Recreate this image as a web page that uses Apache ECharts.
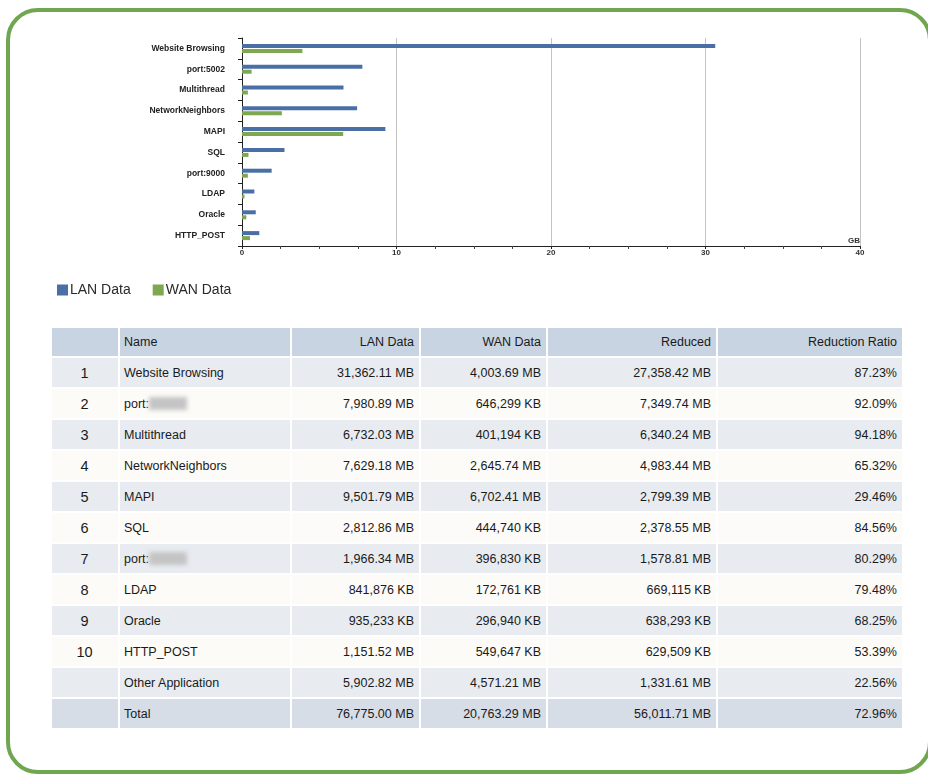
<!DOCTYPE html>
<html>
<head>
<meta charset="utf-8">
<script src="https://cdn.jsdelivr.net/npm/echarts@6/dist/echarts.min.js"></script>
<style>
  html, body { margin: 0; padding: 0; background: #fff; }
  body { width: 928px; height: 774px; position: relative; overflow: hidden; font-family: "Liberation Sans", Arial, sans-serif; }
  .frame {
    position: absolute; left: 6px; top: 8px; width: 926px; height: 766px;
    box-sizing: border-box; border: 4px solid #71a650; border-radius: 32px;
  }
  #main { position: absolute; left: 0; top: 0; width: 928px; height: 310px; }
  table.report {
    position: absolute; left: 50px; top: 326px; width: 854px; table-layout: fixed;
    border-collapse: separate; border-spacing: 2px; font-size: 12.5px; color: #1a1a1a;
  }
  .report td { height: 29px; padding: 0 5px 0 4px; white-space: nowrap; box-sizing: border-box; overflow: hidden; }
  .report tr.head td { background: #c8d4e2; height: 28px; }
  .report tr.odd td { background: #e8ecf1; }
  .report tr.even td { background: #fcfbf8; }
  .report tr.total td { background: #d6dde7; }
  .report td.idx { text-align: center; font-size: 14.5px; }
  .report td.num { text-align: right; }
  .blur { display: inline-block; width: 38px; height: 13px; vertical-align: -2px; background: #c4c4c4; filter: blur(2px); }
</style>
</head>
<body>
<div class="frame"></div>
<div id="main"></div>
<table class="report" id="report"></table>
<script>
// chart data (GB)
var categories = ['Website Browsing', 'port:5002', 'Multithread', 'NetworkNeighbors', 'MAPI', 'SQL', 'port:9000', 'LDAP', 'Oracle', 'HTTP_POST']
var lanData = [30.63, 7.79, 6.57, 7.45, 9.28, 2.75, 1.92, 0.80, 0.89, 1.12]
var wanData = [3.91, 0.62, 0.38, 2.58, 6.55, 0.42, 0.38, 0.16, 0.28, 0.52]

// table data
var headers = ['', 'Name', 'LAN Data', 'WAN Data', 'Reduced', 'Reduction Ratio']
var rowNames = ['Website Browsing', 'port:', 'Multithread', 'NetworkNeighbors', 'MAPI', 'SQL', 'port:', 'LDAP', 'Oracle', 'HTTP_POST', 'Other Application', 'Total']
var lanText = ['31,362.11 MB', '7,980.89 MB', '6,732.03 MB', '7,629.18 MB', '9,501.79 MB', '2,812.86 MB', '1,966.34 MB', '841,876 KB', '935,233 KB', '1,151.52 MB', '5,902.82 MB', '76,775.00 MB']
var wanText = ['4,003.69 MB', '646,299 KB', '401,194 KB', '2,645.74 MB', '6,702.41 MB', '444,740 KB', '396,830 KB', '172,761 KB', '296,940 KB', '549,647 KB', '4,571.21 MB', '20,763.29 MB']
var reducedText = ['27,358.42 MB', '7,349.74 MB', '6,340.24 MB', '4,983.44 MB', '2,799.39 MB', '2,378.55 MB', '1,578.81 MB', '669,115 KB', '638,293 KB', '629,509 KB', '1,331.61 MB', '56,011.71 MB']
var ratioText = ['87.23%', '92.09%', '94.18%', '65.32%', '29.46%', '84.56%', '80.29%', '79.48%', '68.25%', '53.39%', '22.56%', '72.96%']

var lanColor = '#4a6fa7'
var wanColor = '#7ea752'

var chart = echarts.init(document.getElementById('main'))
var option = {
  animation: false,
  textStyle: { fontFamily: 'Liberation Sans, Arial, sans-serif' },
  legend: {
    left: 52,
    top: 278,
    icon: 'rect',
    itemWidth: 11,
    itemHeight: 11,
    itemGap: 22,
    textStyle: { fontSize: 14, color: '#2a2a2a', padding: [0, 0, 0, -3] },
    data: ['LAN Data', 'WAN Data']
  },
  grid: { left: 242, right: 68, top: 38, bottom: 64, containLabel: false },
  xAxis: {
    type: 'value',
    min: 0,
    max: 40,
    interval: 10,
    name: 'GB',
    nameLocation: 'end',
    nameGap: -12,
    nameTextStyle: { fontSize: 8, fontWeight: 'bold', color: '#333', verticalAlign: 'bottom', padding: [0, 0, 1, 0] },
    axisLine: { show: true, lineStyle: { color: '#222', width: 1 } },
    axisTick: { show: true, inside: false, length: 3, lineStyle: { color: '#222' } },
    minorTick: { show: true, splitNumber: 4, length: 3, lineStyle: { color: '#444' } },
    axisLabel: { fontSize: 8, fontWeight: 'bold', color: '#333', margin: 3 },
    splitLine: { show: true, lineStyle: { color: '#c4c4c4', width: 1 } }
  },
  yAxis: {
    type: 'category',
    inverse: true,
    data: categories,
    axisLine: { show: true, lineStyle: { color: '#222', width: 1 } },
    axisTick: { show: true, length: 4, lineStyle: { color: '#222' } },
    axisLabel: { fontSize: 8.5, fontWeight: 'bold', color: '#222', margin: 17 },
    splitLine: { show: false }
  },
  series: [
    { name: 'LAN Data', type: 'bar', data: lanData, barWidth: 4, barGap: '25%', itemStyle: { color: lanColor } },
    { name: 'WAN Data', type: 'bar', data: wanData, barWidth: 4, barGap: '25%', itemStyle: { color: wanColor } }
  ]
}
option && chart.setOption(option)

// build the table
var colWidths = [66, 170, 127, 125, 168, 184]
var table = document.getElementById('report')
var html = '<colgroup>'
colWidths.forEach(function (w) { html += '<col style="width:' + w + 'px">' })
html += '</colgroup><tr class="head">'
headers.forEach(function (h, i) {
  html += '<td class="' + (i === 0 ? 'idx' : (i === 1 ? '' : 'num')) + '">' + h + '</td>'
})
html += '</tr>'
for (var i = 0; i < rowNames.length; i++) {
  var cls = i === rowNames.length - 1 ? 'total' : (i % 2 === 0 ? 'odd' : 'even')
  var name = rowNames[i] === 'port:' ? 'port:<span class="blur"></span>' : rowNames[i]
  html += '<tr class="' + cls + '">' +
    '<td class="idx">' + (i < 10 ? i + 1 : '') + '</td>' +
    '<td>' + name + '</td>' +
    '<td class="num">' + lanText[i] + '</td>' +
    '<td class="num">' + wanText[i] + '</td>' +
    '<td class="num">' + reducedText[i] + '</td>' +
    '<td class="num">' + ratioText[i] + '</td></tr>'
}
table.innerHTML = html
</script>
</body>
</html>
